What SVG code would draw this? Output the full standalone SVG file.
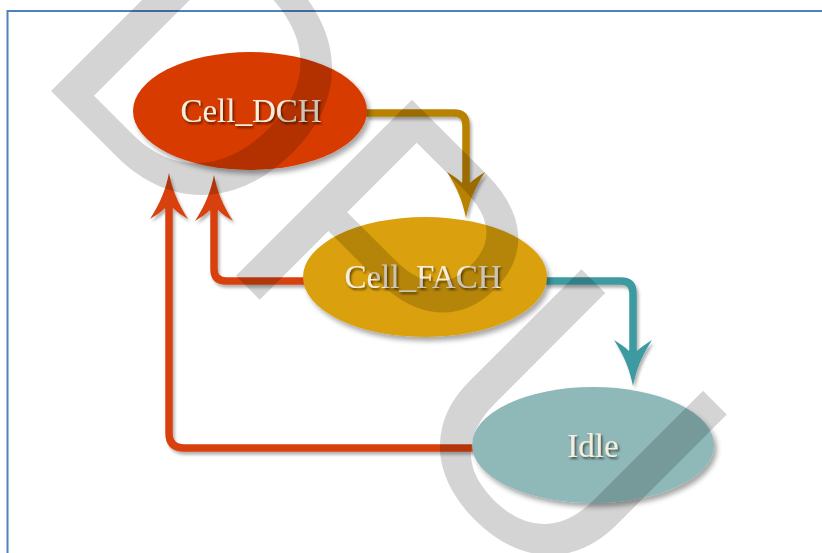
<svg xmlns="http://www.w3.org/2000/svg" width="822" height="553" viewBox="0 0 822 553">
  <style>
    .lbl { font-family: "Liberation Serif", "Times New Roman", serif; font-size: 33px; fill: #F6EDDC; text-anchor: middle; }
    .conn { fill: none; stroke-width: 7.5; stroke-linecap: butt; }
    .wm { font-family: "Liberation Sans", Arial, sans-serif; font-size: 362px; fill: #000; fill-opacity: 0.17; }
  </style>
  <defs>
    <filter id="shadow" x="-20%" y="-20%" width="150%" height="150%">
      <feDropShadow dx="3" dy="4" stdDeviation="2.5" flood-color="#000" flood-opacity="0.35"/>
    </filter>
    <filter id="lineShadow" x="-20%" y="-20%" width="150%" height="150%">
      <feDropShadow dx="2" dy="3" stdDeviation="1.5" flood-color="#000" flood-opacity="0.3"/>
    </filter>
    <filter id="textShadow" x="-10%" y="-20%" width="130%" height="160%">
      <feDropShadow dx="1.5" dy="2" stdDeviation="1.2" flood-color="#000" flood-opacity="0.6"/>
    </filter>
    <marker id="headRed" markerUnits="userSpaceOnUse" markerWidth="60" markerHeight="60" refX="0" refY="0" orient="auto" overflow="visible">
      <path d="M-1,-4 L0,-4 C-4,-8 -8,-14 -11,-19 C6,-8 20,-3 35,0 C20,3 6,8 -11,19 C-8,14 -4,8 0,4 L-1,4 Z" fill="#D8400A"/>
    </marker>
    <marker id="headGold" markerUnits="userSpaceOnUse" markerWidth="60" markerHeight="60" refX="0" refY="0" orient="auto" overflow="visible">
      <path d="M-1,-4 L0,-4 C-4,-8 -8,-14 -11,-19 C6,-8 20,-3 35,0 C20,3 6,8 -11,19 C-8,14 -4,8 0,4 L-1,4 Z" fill="#B98100"/>
    </marker>
    <marker id="headTeal" markerUnits="userSpaceOnUse" markerWidth="60" markerHeight="60" refX="0" refY="0" orient="auto" overflow="visible">
      <path d="M-1,-4 L0,-4 C-4,-8 -8,-14 -11,-19 C6,-8 20,-3 35,0 C20,3 6,8 -11,19 C-8,14 -4,8 0,4 L-1,4 Z" fill="#3E9AA0"/>
    </marker>
  </defs>

  <rect x="0" y="0" width="822" height="553" fill="#FFFFFF"/>
  <rect id="frame" x="7.5" y="11" width="830" height="560" fill="none" stroke="#4F81BD" stroke-width="2"/>

  <g id="connectors" filter="url(#lineShadow)">
    <path id="dch-to-fach" class="conn" stroke="#B98100" d="M366,113 H454 Q466,113 466,125 V183" marker-end="url(#headGold)"/>
    <path id="fach-to-idle" class="conn" stroke="#3E9AA0" d="M545,281 H621 Q633,281 633,293 V351" marker-end="url(#headTeal)"/>
    <path id="fach-to-dch" class="conn" stroke="#D8400A" d="M305,281 H226 Q214,281 214,269 V210" marker-end="url(#headRed)"/>
    <path id="idle-to-dch" class="conn" stroke="#D8400A" d="M474,448 H184 Q169,448 169,433 V208" marker-end="url(#headRed)"/>
  </g>

  <g id="node-cell-dch">
    <ellipse cx="250" cy="111" rx="117" ry="59" fill="#D83B01" filter="url(#shadow)"/>
    <text class="lbl" x="251" y="122" filter="url(#textShadow)">Cell_DCH</text>
  </g>

  <g id="node-cell-fach">
    <ellipse cx="425" cy="277" rx="122" ry="60" fill="#DAA00A" filter="url(#shadow)"/>
    <text class="lbl" x="423" y="288" filter="url(#textShadow)">Cell_FACH</text>
  </g>

  <g id="node-idle">
    <ellipse cx="593" cy="445" rx="121" ry="58" fill="#8FB8B8" filter="url(#shadow)"/>
    <text class="lbl" x="593" y="457" filter="url(#textShadow)">Idle</text>
  </g>

  <g id="watermark">
    <text class="wm" transform="translate(30,70) rotate(45)">DPU</text>
  </g>
</svg>
